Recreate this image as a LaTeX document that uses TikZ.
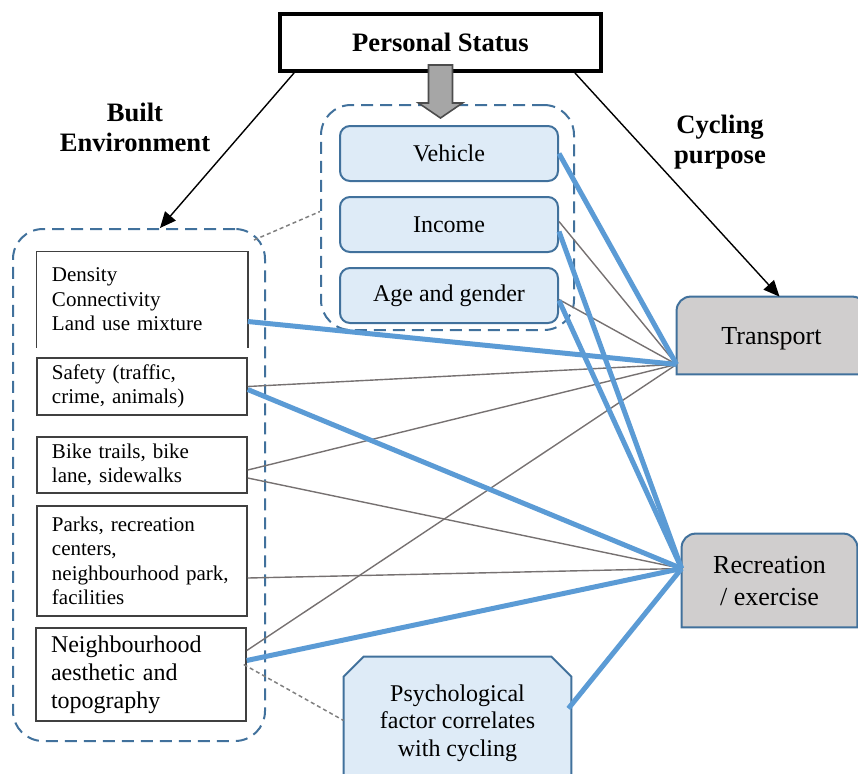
\documentclass[tikz,border=0pt]{standalone}
\usepackage{fontspec}
\setmainfont{Liberation Serif}
\usetikzlibrary{positioning,arrows.meta,calc,backgrounds}
\definecolor{boxblue}{HTML}{41719C}
\definecolor{lightblue}{HTML}{DEEBF7}
\definecolor{linkblue}{HTML}{5B9BD5}
\definecolor{linkgray}{HTML}{767171}
\definecolor{purposegray}{HTML}{D0CECE}
\definecolor{arrowgray}{HTML}{A6A6A6}

\begin{document}
\begin{tikzpicture}[x=0.5pt, y=-0.5pt]

\tikzstyle{dashgroup} = [draw=boxblue, line width=1pt, dash pattern=on 6pt off 3.5pt, rounded corners=15pt]
\tikzstyle{factor} = [draw=black!75, line width=0.75pt, text width=90pt, inner xsep=7.5pt, align=left, font=\fontsize{10.5}{12.2}\selectfont]
\tikzstyle{personal} = [draw=boxblue, fill=lightblue, line width=1pt, rounded corners=5pt, minimum width=109pt, minimum height=27.5pt, font=\fontsize{12}{14}\selectfont]
\tikzstyle{purpose} = [align=center, text depth=0pt, font=\fontsize{13}{16}\selectfont]
\tikzstyle{purposeedge} = [draw=boxblue, fill=purposegray, line width=1pt]
\tikzstyle{heading} = [align=center, font=\bfseries\fontsize{13.3}{15}\selectfont]
\tikzstyle{stronglink} = [linkblue, line width=2.5pt]
\tikzstyle{weaklink} = [linkgray, line width=0.7pt]
\tikzstyle{dashlink} = [gray, line width=0.75pt, dash pattern=on 2pt off 1.5pt]
\tikzstyle{arrow} = [line width=0.7pt, -{Triangle[length=8pt, width=7pt]}]

\useasboundingbox (0,0) rectangle (858,773);

% Personal status
\node (status) [draw, line width=2pt, minimum width=160.5pt, minimum height=28.5pt, font=\bfseries\fontsize{13.3}{15}\selectfont] at (440.5,42.5) {Personal Status};

\node (group) [dashgroup, minimum width=126.5pt, minimum height=112.5pt] at (447.5,217.5) {};
\node (vehicle) [personal] at (449,153.5) {Vehicle};
\node (income) [personal, below=7pt of vehicle] {Income};
\node (age) [personal, below=7pt of income] {Age and gender};

\draw [fill=arrowgray, draw=black!70, line width=0.8pt] ($(status.south)+(-12,-8)$) -- ++(0,38) -- ++(-10,0) -- ++(22,15) -- ++(22,-15) -- ++(-10,0) -- ++(0,-38) -- cycle;

% Built environment
\node (built) [dashgroup, minimum width=126pt, minimum height=256pt] at (139,485) {};
\node (dens) [factor, draw=none, minimum height=47.5pt] at (142,299.5) {Density\\Connectivity\\Land use mixture};
\draw [black!75, line width=0.75pt] (dens.south west) -- (dens.north west) -- (dens.north east) -- (dens.south east);
\node (safety) [factor, minimum height=27.5pt] at (142,386.5) {Safety (traffic,\\crime, animals)};
\node (bike) [factor, minimum height=28pt] at (142,465) {Bike trails, bike\\lane, sidewalks};
\node (parks) [factor, minimum height=55pt] at (142,561) {Parks, recreation\\centers,\\neighbourhood park,\\facilities};
\node (neigh) [factor, minimum height=46.5pt, font=\fontsize{12}{14}\selectfont] at (141,674.5) {Neighbourhood\\aesthetic and\\topography};

% Cycling purpose
\node (trans) [purpose, minimum width=94.5pt, minimum height=38.5pt] at (771.5,335.5) {Transport};
\node (recr) [purpose, minimum width=87.5pt, minimum height=46.5pt] at (769.5,580.5) {Recreation\\/ exercise};
\node (psych) [align=center, text depth=0pt, font=\fontsize{12}{13.75}\selectfont, minimum width=113.5pt, minimum height=63.5pt] at (457.5,720.5) {Psychological\\factor correlates\\with cycling};

\begin{scope}[on background layer]
\draw [purposeedge] (trans.south west) [rounded corners=7pt] -- (trans.north west) -- (trans.north east) [sharp corners] -- (trans.south east) -- cycle;
\draw [purposeedge] (recr.south west) [rounded corners=7pt] -- (recr.north west) -- (recr.north east) [sharp corners] -- (recr.south east) -- cycle;
\draw [draw=boxblue, fill=lightblue, line width=1pt] (psych.south west) -- ($(psych.north west)+(0,20)$) -- ($(psych.north west)+(20,0)$) -- ($(psych.north east)+(-20,0)$) -- ($(psych.north east)+(0,20)$) -- (psych.south east) -- cycle;
\end{scope}

\node (builtlabel) [heading] at (135,127) {Built\\Environment};
\node (purposelabel) [heading] at (720,142) {Cycling\\purpose};

\draw [arrow] ($(status.south west)+(16,0)$) -- ($(built.north)+(21,0)$);
\draw [arrow] ($(status.south east)+(-28,0)$) -- ($(trans.north)+(8,0)$);

\draw [dashlink] ($(built.north east)+(-12,12)$) -- ([yshift=3pt]group.west);
\draw [dashlink] ([xshift=-1.5pt,yshift=5pt]neigh.east) -- (psych.west);

% Links
\coordinate (tp) at ([yshift=5pt]trans.south west);
\coordinate (rp) at ([yshift=6pt]recr.west);

\draw [weaklink] ([yshift=1.5pt]income.east) -- (tp);
\draw [weaklink] ([yshift=-2pt]age.east) -- (tp);
\draw [weaklink] (safety.east) -- (tp);
\draw [weaklink] ([yshift=-2.5pt]bike.east) -- (tp);
\draw [weaklink] ([yshift=-6.5pt]bike.east) -- (rp);
\draw [weaklink] ([yshift=-8.5pt]parks.east) -- (rp);
\draw [weaklink] ([yshift=12pt]neigh.east) -- (tp);

\draw [stronglink] ([yshift=-11pt]dens.east) -- (tp);
\draw [stronglink] (vehicle.east) -- (tp);
\draw [stronglink] ([yshift=-3.5pt]income.east) -- (rp);
\draw [stronglink] ([yshift=-2.5pt]age.east) -- (rp);
\draw [stronglink] ([yshift=-1.5pt]safety.east) -- (rp);
\draw [stronglink] ([yshift=7pt]neigh.east) -- (rp);
\draw [stronglink] ([xshift=-1.5pt,yshift=6pt]psych.east) -- (rp);

\end{tikzpicture}
\end{document}
